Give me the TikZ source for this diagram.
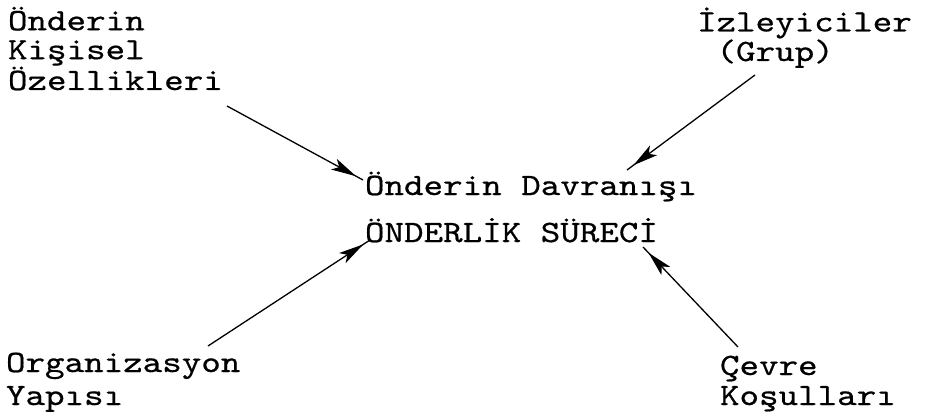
\documentclass[tikz,border=0pt]{standalone}
\usepackage{fontspec}
\newfontfamily\tw{lmmono10-regular.otf}[FakeStretch=1.2,FakeBold=0.6]
\usetikzlibrary{arrows.meta,decorations.markings}
\begin{document}
\begin{tikzpicture}[x=1pt,y=1pt,
  lbl/.style={inner sep=0pt, outer sep=0pt, anchor=base west, align=left},
  arr/.style={line width=1.3pt, postaction=decorate,
    decoration={markings, mark=at position -8pt with {\arrow{Stealth[length=25pt,width=12pt,inset=6pt]}}}}]
\useasboundingbox (0,0) rectangle (926,-417);
\node[lbl, font=\fontsize{31}{29}\tw] (kis) at (8,-90) {Önderin\\Kişisel\\Özellikleri};
\node[lbl, font=\fontsize{31}{27}\tw] (izl) at (697,-61) {İzleyiciler\\\hphantom{(}(Grup)};
\node[lbl, font=\fontsize{31}{33}\tw] (org) at (6,-405) {Organizasyon\\Yapısı};
\node[lbl, font=\fontsize{31}{30}\tw] (cev) at (720,-405) {Çevre\\Koşulları};
\node[lbl, font=\fontsize{31}{47}\tw] (mid) at (365,-242) {Önderin Davranışı\\ÖNDERLİK SÜRECİ};
\coordinate (kisE) at (227,-106);
\coordinate (izlE) at (755,-75);
\coordinate (orgE) at (208,-346);
\coordinate (cevE) at (738,-347);
\coordinate (midA) at (363,-180);
\coordinate (midB) at (627,-170);
\coordinate (midC) at (370,-240);
\coordinate (midD) at (643,-247);
\draw[arr] (kisE) -- (midA);
\draw[arr] (izlE) -- (midB);
\draw[arr] (orgE) -- (midC);
\draw[arr] (cevE) -- (midD);
\end{tikzpicture}
\end{document}
